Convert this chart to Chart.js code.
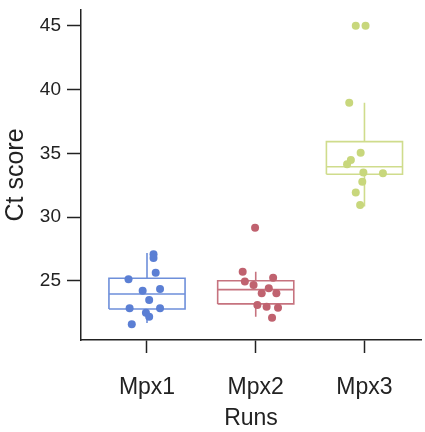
<!DOCTYPE html>
<html>
<head>
<meta charset="utf-8">
<script src="https://cdn.jsdelivr.net/npm/chart.js@4.4.0/dist/chart.umd.min.js"></script>
<style>
  html, body { margin: 0; padding: 0; background: #fff; }
</style>
</head>
<body>
<canvas id="grafico" width="425" height="432"></canvas>
<script>
// categorias e ticks
const categories = ["Mpx1", "Mpx2", "Mpx3"];
const yTicks = [25, 30, 35, 40, 45];

// pontos (valor Ct) e jitter horizontal de cada ponto
const mpx1Values = [27.1, 26.8, 25.65, 25.13, 24.24, 24.37, 23.5, 22.86, 22.86, 22.5, 22.2, 21.6];
const mpx1Jitter = [0.06, 0.06, 0.08, -0.17, -0.04, 0.12, 0.02, -0.16, 0.12, -0.01, 0.02, -0.14];
const mpx2Values = [29.18, 25.73, 25.26, 24.95, 24.69, 24.43, 24.04, 24.04, 23.12, 22.98, 22.9, 22.12];
const mpx2Jitter = [-0.006, -0.12, 0.16, -0.10, -0.02, 0.12, 0.055, 0.19, 0.015, 0.10, 0.205, 0.15];
const mpx3Values = [45.02, 45.02, 38.98, 35.06, 34.49, 34.15, 33.5, 33.45, 32.79, 31.93, 30.96];
const mpx3Jitter = [-0.08, 0.01, -0.14, -0.035, -0.125, -0.16, -0.01, 0.17, -0.02, -0.08, -0.04];

// estatisticas do boxplot
const whiskerLow = [21.7, 22.2, 30.83];
const q1 = [22.8, 23.2, 33.37];
const median = [23.98, 24.32, 33.96];
const q3 = [25.21, 25.02, 35.93];
const whiskerHigh = [27.2, 25.73, 38.98];

const pointColors = ["#5b7fd4", "#c0626f", "#c8d77c"];
const boxColors = ["#6e8fda", "#c6737f", "#cfdc8c"];
const halfWidth = 0.35;

const allValues = [mpx1Values, mpx2Values, mpx3Values];
const allJitter = [mpx1Jitter, mpx2Jitter, mpx3Jitter];

function boxPath(i) {
  const l = i - halfWidth, r = i + halfWidth;
  return [
    { x: l, y: q1[i] }, { x: r, y: q1[i] }, { x: r, y: q3[i] }, { x: l, y: q3[i] }, { x: l, y: q1[i] },
    { x: i, y: null },
    { x: l, y: median[i] }, { x: r, y: median[i] },
    { x: i, y: null },
    { x: i, y: q3[i] }, { x: i, y: whiskerHigh[i] },
    { x: i, y: null },
    { x: i, y: q1[i] }, { x: i, y: whiskerLow[i] }
  ];
}

const datasets = [];
categories.forEach((c, i) => {
  datasets.push({
    label: c + " pontos",
    data: allValues[i].map((v, k) => ({ x: i + allJitter[i][k], y: v })),
    backgroundColor: pointColors[i],
    borderWidth: 0,
    pointRadius: 4,
    order: 1
  });
  datasets.push({
    label: c + " box",
    data: boxPath(i),
    showLine: true,
    spanGaps: false,
    borderColor: boxColors[i],
    borderWidth: 1.6,
    pointRadius: 0,
    fill: false,
    order: 2
  });
});

const corTexto = "#222";
const fonte = "'Liberation Sans', Arial, sans-serif";

new Chart(document.getElementById("grafico"), {
  type: "scatter",
  data: { datasets: datasets },
  options: {
    responsive: false,
    animation: false,
    layout: { padding: { top: 10, right: 0, left: 0, bottom: 0 } },
    plugins: {
      legend: { display: false },
      tooltip: { enabled: false }
    },
    scales: {
      x: {
        type: "linear",
        min: -0.607,
        max: 2.52,
        afterBuildTicks: s => { s.ticks = categories.map((c, i) => ({ value: i })); },
        afterFit: s => { s.height = 92; s.paddingLeft = 0; s.paddingRight = 0; },
        ticks: {
          callback: v => categories[v],
          color: corTexto,
          font: { family: fonte, size: 23 },
          padding: 21,
          maxRotation: 0
        },
        grid: { drawOnChartArea: false, drawTicks: true, tickLength: 13, tickColor: corTexto, tickWidth: 1.5 },
        border: { display: true, color: corTexto, width: 1.5 },
        title: {
          display: true,
          text: "Runs",
          color: corTexto,
          font: { family: fonte, size: 23 },
          padding: { top: 0, bottom: 0 }
        }
      },
      y: {
        min: 20.37,
        max: 46.25,
        afterBuildTicks: s => { s.ticks = yTicks.map(v => ({ value: v })); },
        afterFit: s => { s.width = 81; s.paddingTop = 0; s.paddingBottom = 0; },
        ticks: {
          color: corTexto,
          font: { family: fonte, size: 19 },
          padding: 6
        },
        grid: { drawOnChartArea: false, drawTicks: true, tickLength: 14, tickColor: corTexto, tickWidth: 1.5 },
        border: { display: true, color: corTexto, width: 1.5 },
        title: {
          display: true,
          text: "Ct score",
          color: corTexto,
          font: { family: fonte, size: 25 },
          padding: { top: 1, bottom: 0 }
        }
      }
    }
  }
});
</script>
</body>
</html>
